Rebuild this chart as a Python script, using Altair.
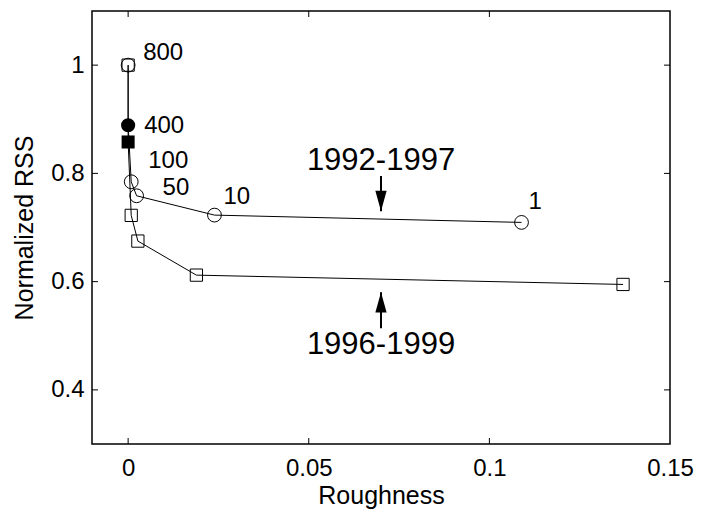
import altair as alt
import pandas as pd

# ---- data ----
labels = ["800", "400", "100", "50", "10", "1"]
rough_9297 = [0.0, 0.0, 0.00086, 0.00235, 0.0239, 0.1089]
rss_9297 = [1.0, 0.889, 0.7845, 0.7586, 0.7229, 0.7094]
rough_9699 = [0.0, 0.0, 0.00086, 0.0027, 0.0189, 0.137]
rss_9699 = [1.0, 0.858, 0.7224, 0.6749, 0.612, 0.5948]

x_labels = [0.0, 0.05, 0.1, 0.15]
x_ticks = [0.0, 0.05, 0.1]
y_ticks = [0.4, 0.6, 0.8, 1.0]

period_names = ["1992-1997", "1996-1999"]
period_x = [0.07, 0.07]
period_text_y = [0.822, 0.483]
arrow_tail_y = [0.795, 0.514]
arrow_tip_y = [0.730, 0.5806]

FONT = "Liberation Sans"
W, H = 578, 433

d1 = pd.DataFrame({"i": range(6), "label": labels, "x": rough_9297, "y": rss_9297})
d2 = pd.DataFrame({"i": range(6), "label": labels, "x": rough_9699, "y": rss_9699})
dp = pd.DataFrame({"name": period_names, "x": period_x, "ty": period_text_y,
                   "y0": arrow_tail_y, "y1": arrow_tip_y})
dxt = pd.DataFrame({"v": x_ticks})
dyt = pd.DataFrame({"v": y_ticks})

xs = alt.Scale(domain=[-0.01, 0.15], nice=False, zero=False)
ys = alt.Scale(domain=[0.3, 1.1], nice=False, zero=False)

X = alt.X("x:Q", scale=xs, title="Roughness",
          axis=alt.Axis(values=x_labels, format=".2~f", ticks=False, tickSize=0,
                        domain=False, grid=False, labelPadding=12, titlePadding=3,
                        labelFlush=False, labelOverlap=False))
Y = alt.Y("y:Q", scale=ys, title="Normalized RSS",
          axis=alt.Axis(values=y_ticks, format=".1~f", ticks=False, tickSize=0,
                        domain=False, grid=False, labelPadding=8, titlePadding=13))

line1 = alt.Chart(d1).mark_line(color="black", strokeWidth=1).encode(x=X, y=Y, order="i:Q")
line2 = alt.Chart(d2).mark_line(color="black", strokeWidth=1).encode(x="x:Q", y="y:Q", order="i:Q")

open_c = alt.Chart(d1).transform_filter("datum.label != '400'").mark_point(
    shape="circle", filled=False, color="black", size=190, strokeWidth=1, opacity=1
).encode(x="x:Q", y="y:Q")
fill_c = alt.Chart(d1).transform_filter("datum.label == '400'").mark_point(
    shape="circle", filled=True, color="black", size=200, opacity=1
).encode(x="x:Q", y="y:Q")
open_s = alt.Chart(d2).transform_filter("datum.label != '400'").mark_point(
    shape="square", filled=False, color="black", size=150, strokeWidth=1, opacity=1
).encode(x="x:Q", y="y:Q")
fill_s = alt.Chart(d2).transform_filter("datum.label == '400'").mark_point(
    shape="square", filled=True, color="black", size=170, opacity=1
).encode(x="x:Q", y="y:Q")

offsets = {"800": (15, -12), "400": (16, 1), "100": (17, -21),
           "50": (26, -8), "10": (9, -18), "1": (7, -20)}
text_layers = []
for lab, (ddx, ddy) in offsets.items():
    text_layers.append(
        alt.Chart(d1).transform_filter(f"datum.label == '{lab}'").mark_text(
            align="left", baseline="middle", font=FONT, fontSize=24, color="black",
            dx=ddx, dy=ddy
        ).encode(x="x:Q", y="y:Q", text="label:N")
    )

shafts = alt.Chart(dp).mark_rule(color="black", strokeWidth=2).encode(
    x="x:Q", y="y0:Q", y2="y1:Q")
head_down = alt.Chart(dp).transform_filter("datum.name == '1992-1997'").mark_point(
    shape="M-0.55,-2L0.55,-2L0,0Z", filled=True, color="black", size=420, opacity=1
).encode(x="x:Q", y="y1:Q")
head_up = alt.Chart(dp).transform_filter("datum.name == '1996-1999'").mark_point(
    shape="M-0.55,2L0.55,2L0,0Z", filled=True, color="black", size=420, opacity=1
).encode(x="x:Q", y="y1:Q")
ptext = alt.Chart(dp).mark_text(
    align="center", baseline="middle", font=FONT, fontSize=31, color="black"
).encode(x="x:Q", y="ty:Q", text="name:N")

tick_b = alt.Chart(dxt).mark_rule(color="black", strokeWidth=1).encode(
    x="v:Q", y=alt.value(H), y2=alt.value(H - 6))
tick_t = alt.Chart(dxt).mark_rule(color="black", strokeWidth=1).encode(
    x="v:Q", y=alt.value(0), y2=alt.value(6))
tick_l = alt.Chart(dyt).mark_rule(color="black", strokeWidth=1).encode(
    y="v:Q", x=alt.value(0), x2=alt.value(6))
tick_r = alt.Chart(dyt).mark_rule(color="black", strokeWidth=1).encode(
    y="v:Q", x=alt.value(W), x2=alt.value(W - 6))

chart = alt.layer(
    line1, line2, open_c, fill_c, open_s, fill_s, *text_layers,
    shafts, head_down, head_up, ptext, tick_b, tick_t, tick_l, tick_r
).properties(
    width=W, height=H,
    autosize=alt.AutoSizeParams(type="none"),
    padding={"left": 84, "top": 3, "right": 24, "bottom": 67},
    background="white",
).configure_view(
    stroke="black", strokeWidth=1.5
).configure_axis(
    labelFont=FONT, labelFontSize=24, labelColor="black",
    titleFont=FONT, titleFontSize=25, titleFontWeight="normal", titleColor="black",
)

chart.save("out.html", embed_options={"renderer": "svg", "actions": False})
